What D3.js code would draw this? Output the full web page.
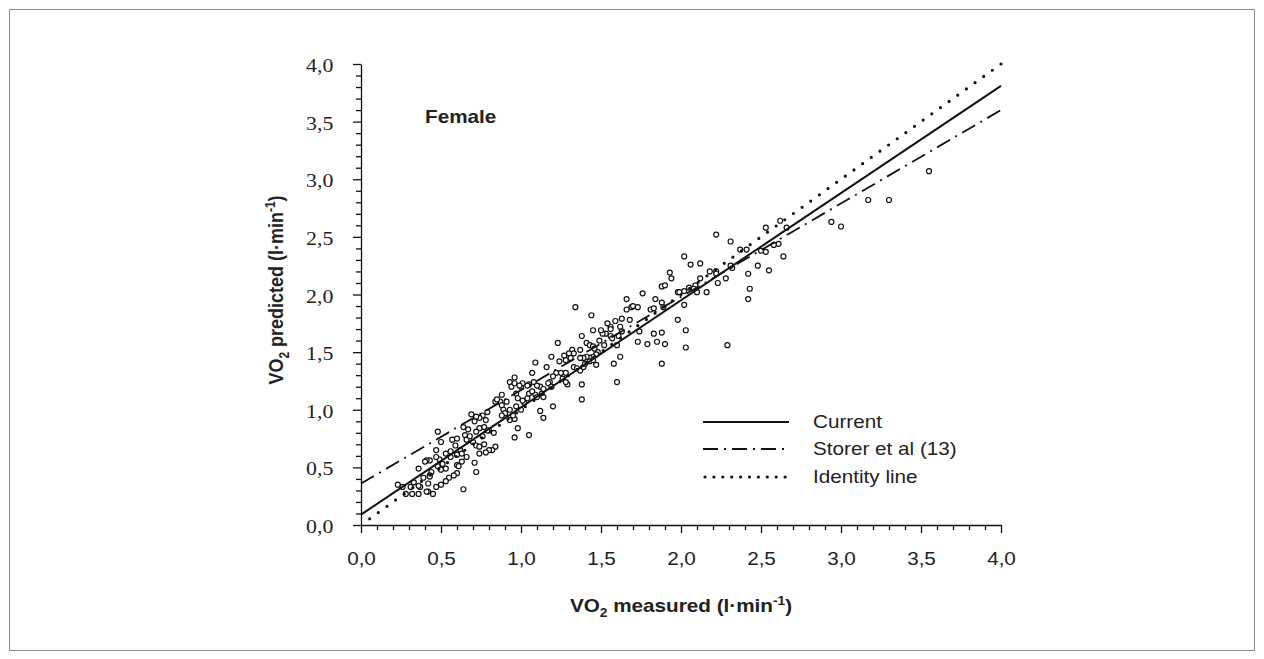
<!DOCTYPE html>
<html>
<head>
<meta charset="utf-8">
<script src="https://cdn.jsdelivr.net/npm/d3@7"></script>
<style>
  body { margin: 0; background: #fff; }
  svg { display: block; }
</style>
</head>
<body>
<script>
// values (l/min)
var femalePoints = [
  [2.22,2.52],[2.31,2.46],[2.12,2.27],[2.18,2.20],[2.22,2.20],[2.22,2.18],[2.16,2.02],[2.23,2.10],[2.28,2.14],
  [2.32,2.23],[2.31,2.25],[2.37,2.39],[2.41,2.39],[2.53,2.58],[2.62,2.64],[2.66,2.58],[2.42,2.18],[2.43,2.05],
  [2.42,1.96],[2.48,2.25],[2.55,2.21],[2.64,2.33],[2.61,2.44],[2.58,2.43],[2.53,2.37],[2.50,2.38],[2.29,1.56],
  [2.94,2.63],[3.00,2.59],[3.17,2.82],[3.30,2.82],[3.55,3.07],[2.06,2.26],[2.12,2.14],[2.09,2.08],
  [2.02,2.33],[1.93,2.19],[1.94,2.14],[1.88,2.07],[1.90,2.08],[1.84,1.96],[1.88,1.93],[1.76,2.01],[1.66,1.96],
  [1.69,1.89],[1.70,1.90],[1.73,1.89],[1.81,1.87],[1.83,1.88],[1.89,1.89],[1.98,2.02],[1.99,2.02],[2.02,2.03],
  [2.05,2.06],[2.08,2.05],[2.10,2.02],[2.02,1.91],[1.98,1.78],[2.03,1.69],[2.03,1.54],[1.88,1.67],[1.85,1.59],
  [1.90,1.57],[1.83,1.66],[1.79,1.57],[1.73,1.59],[1.88,1.40],[1.74,1.68],[1.68,1.78],[1.63,1.79],[1.59,1.77],
  [1.66,1.87],[1.56,1.72],[1.56,1.70],[1.53,1.66],[1.62,1.72],[1.63,1.68],[1.61,1.64],[1.60,1.56],[1.62,1.46],
  [1.58,1.40],[1.60,1.24],[1.44,1.82],[1.45,1.69],[1.34,1.89],[1.38,1.64],[1.49,1.60],[1.51,1.66],[1.56,1.64],
  [1.57,1.62],[1.41,1.58],[1.43,1.56],[1.45,1.55],[1.46,1.53],[1.48,1.50],[1.47,1.48],[1.45,1.46],[1.43,1.45],
  [1.41,1.46],[1.39,1.45],[1.37,1.45],[1.37,1.52],[1.32,1.52],[1.33,1.49],[1.31,1.45],[1.27,1.47],[1.28,1.43],
  [1.24,1.42],[1.23,1.58],[1.19,1.46],[1.16,1.37],[1.22,1.32],[1.20,1.29],[1.25,1.32],[1.28,1.32],[1.26,1.27],
  [1.29,1.22],[1.28,1.24],[1.33,1.37],[1.35,1.36],[1.37,1.34],[1.39,1.37],[1.40,1.40],[1.43,1.42],[1.45,1.43],
  [1.47,1.39],[1.38,1.22],[1.38,1.09],[1.20,1.03],[1.18,1.24],[1.17,1.23],[1.19,1.20],[1.12,1.20],[1.14,1.18],
  [1.13,1.14],[1.14,1.11],[1.54,1.75],[1.50,1.69],[1.52,1.56],[1.30,1.49],
  [1.09,1.41],[1.07,1.32],[1.08,1.24],[1.10,1.21],[1.05,1.22],[1.04,1.21],[1.09,1.13],[1.10,1.11],[1.12,0.99],
  [1.14,0.93],[1.05,0.78],[0.96,1.28],[0.93,1.24],[0.94,1.20],[0.96,1.23],[0.88,1.13],[0.87,1.07],[0.91,1.07],
  [0.88,1.04],[0.84,1.07],[0.85,1.09],[0.89,1.00],[0.90,0.97],[0.88,0.95],[0.93,0.91],[0.96,0.92],[0.95,0.95],
  [0.98,0.84],[0.96,0.76],[0.93,1.00],[0.97,1.03],[1.00,1.00],[1.02,1.06],[1.01,1.08],[1.04,1.10],[1.05,1.14],
  [1.07,1.16],[1.00,1.20],[1.01,1.23],[0.99,1.21],[0.97,1.14],[0.98,1.10],[0.79,0.98],[0.76,0.95],[0.78,0.91],
  [0.74,0.93],[0.72,0.94],[0.69,0.96],[0.71,0.90],[0.77,0.85],[0.80,0.82],[0.76,0.77],[0.83,0.80],[0.84,0.68],
  [0.82,0.65],[0.79,0.82],[0.74,0.84],[0.72,0.81],[0.67,0.83],[0.64,0.85],[0.65,0.78],[0.66,0.74],[0.68,0.77],
  [0.70,0.72],[0.72,0.69],[0.74,0.68],[0.77,0.70],[0.80,0.65],[0.78,0.63],[0.74,0.62],[0.71,0.54],[0.72,0.46],
  [0.57,0.74],[0.60,0.75],[0.59,0.69],[0.56,0.64],[0.62,0.65],[0.60,0.61],[0.63,0.62],[0.66,0.59],[0.63,0.55],
  [0.60,0.52],[0.61,0.51],[0.60,0.45],[0.58,0.43],[0.55,0.41],[0.53,0.38],[0.50,0.35],[0.47,0.33],[0.45,0.27],
  [0.42,0.29],[0.36,0.27],[0.32,0.27],[0.64,0.31],[0.48,0.51],[0.50,0.48],[0.53,0.49],[0.51,0.53],[0.49,0.57],
  [0.47,0.59],[0.53,0.62],[0.56,0.59],[0.43,0.56],[0.41,0.56],[0.44,0.46],[0.43,0.43],[0.39,0.41],[0.37,0.33],
  [0.33,0.37],[0.48,0.81],[0.50,0.72],[0.47,0.65],[0.36,0.49],[0.23,0.35],[0.26,0.33],[0.28,0.27],
  [0.31,0.33],[0.36,0.34],[0.40,0.55],[0.41,0.29],[0.42,0.36],[0.43,0.42]
];

var currentLine = [[0, 0.09], [4, 3.81]];
var storerLine = [[0, 0.36], [4, 3.60]];
var identityLine = [[0, 0], [4, 4]];

var legendLabels = ["Current", "Storer et al (13)", "Identity line"];
var tickValues = [0, 0.5, 1, 1.5, 2, 2.5, 3, 3.5, 4];
var tickLabels = ["0,0", "0,5", "1,0", "1,5", "2,0", "2,5", "3,0", "3,5", "4,0"];

var width = 1264, height = 659;
var stretch = "scale(1.15,1)";
var sans = "'Liberation Sans', Arial, sans-serif";
var serif = "'Liberation Serif', 'Times New Roman', serif";

var svg = d3.select("body").append("svg")
    .attr("width", width)
    .attr("height", height);

// outer frame
svg.append("rect")
    .attr("x", 9.5).attr("y", 9.5)
    .attr("width", 1245).attr("height", 641)
    .attr("fill", "none")
    .attr("stroke", "#8c8c8c")
    .attr("stroke-width", 1);

var x = d3.scaleLinear().domain([0, 4]).range([361, 1001]);
var y = d3.scaleLinear().domain([0, 4]).range([525, 64]);

var allTicks = d3.range(0, 41).map(function (i) { return i / 10; });
function isMajor(d) { return Math.abs(d * 2 - Math.round(d * 2)) < 1e-6; }
function label(d) {
    var i = tickValues.findIndex(function (t) { return Math.abs(t - d) < 1e-6; });
    return i < 0 ? "" : tickLabels[i];
}

// x axis
var gx = svg.append("g")
    .attr("transform", "translate(0,525)")
    .call(d3.axisBottom(x).tickValues(allTicks).tickSize(8).tickSizeOuter(0).tickFormat(label));
gx.selectAll(".tick line").attr("y2", function (d) { return isMajor(d) ? 8 : 5; });
gx.selectAll(".tick text")
    .attr("y", 27)
    .attr("transform", stretch)
    .style("font-family", sans)
    .style("font-size", "18px")
    .attr("fill", "#222");

// y axis
var gy = svg.append("g")
    .attr("transform", "translate(361,0)")
    .call(d3.axisLeft(y).tickValues(allTicks).tickSize(8).tickSizeOuter(0).tickFormat(label));
gy.selectAll(".tick line").attr("x2", function (d) { return isMajor(d) ? -8 : -5; });
gy.selectAll(".tick text")
    .attr("x", -24)
    .attr("dy", "0.4em")
    .attr("transform", stretch)
    .style("font-family", serif)
    .style("font-size", "19px")
    .attr("fill", "#222");

svg.selectAll(".domain, .tick line")
    .attr("stroke", "#111")
    .attr("stroke-width", 1.3);

// axis titles
var xt = svg.append("text")
    .attr("transform", "translate(681,612) " + stretch)
    .attr("text-anchor", "middle")
    .style("font-family", sans)
    .style("font-size", "18px")
    .style("font-weight", "bold")
    .attr("fill", "#222");
xt.append("tspan").text("VO");
xt.append("tspan").attr("dy", 5).style("font-size", "12px").text("2");
xt.append("tspan").attr("dy", -5).text(" measured (l");
xt.append("tspan").text("\u00b7");
xt.append("tspan").text("min");
xt.append("tspan").attr("dy", -7).style("font-size", "12px").text("-1");
xt.append("tspan").attr("dy", 7).text(")");

var yt = svg.append("text")
    .attr("transform", "translate(283,290) scale(1.15,1) rotate(-90)")
    .attr("text-anchor", "middle")
    .style("font-family", sans)
    .style("font-size", "18px")
    .style("font-weight", "bold")
    .attr("fill", "#222");
yt.append("tspan").text("VO");
yt.append("tspan").attr("dy", 5).style("font-size", "12px").text("2");
yt.append("tspan").attr("dy", -5).text(" predicted (l");
yt.append("tspan").text("\u00b7");
yt.append("tspan").text("min");
yt.append("tspan").attr("dy", -7).style("font-size", "12px").text("-1");
yt.append("tspan").attr("dy", 7).text(")");

svg.append("text")
    .attr("transform", "translate(425,123) " + stretch)
    .style("font-family", sans)
    .style("font-size", "18px")
    .style("font-weight", "bold")
    .attr("fill", "#222")
    .text("Female");

// points
svg.append("g")
    .selectAll("circle")
    .data(femalePoints)
    .enter().append("circle")
    .attr("cx", function (d) { return x(d[0]); })
    .attr("cy", function (d) { return y(d[1]); })
    .attr("r", 2.5)
    .attr("fill", "#fff")
    .attr("stroke", "#111")
    .attr("stroke-width", 1.2);

var line = d3.line()
    .x(function (d) { return x(d[0]); })
    .y(function (d) { return y(d[1]); });

svg.append("path")
    .datum(currentLine)
    .attr("d", line)
    .attr("fill", "none")
    .attr("stroke", "#111")
    .attr("stroke-width", 2);

svg.append("path")
    .datum(storerLine)
    .attr("d", line)
    .attr("fill", "none")
    .attr("stroke", "#111")
    .attr("stroke-width", 1.8)
    .attr("stroke-dasharray", "15,6,2,6");

var idPath = svg.append("path")
    .datum(identityLine)
    .attr("d", line)
    .attr("fill", "none")
    .attr("stroke", "#111")
    .attr("stroke-width", 3.2)
    .attr("stroke-linecap", "round");
var idLen = idPath.node().getTotalLength();
idPath.attr("stroke-dasharray", "0," + (idLen / 74))
    .attr("stroke-dashoffset", 0.01);

// legend
var legendY = [422, 449, 477];
var legendDash = [null, "15,6,2,6", "0,8.9"];
var legendWidth = [2, 1.8, 3.2];
var lg = svg.append("g");
legendLabels.forEach(function (name, i) {
    var l = lg.append("line")
        .attr("x1", i == 2 ? 705 : 703).attr("x2", 789)
        .attr("y1", legendY[i]).attr("y2", legendY[i])
        .attr("stroke", "#111")
        .attr("stroke-width", legendWidth[i]);
    if (legendDash[i]) l.attr("stroke-dasharray", legendDash[i]);
    if (i == 2) l.attr("stroke-linecap", "round");
    lg.append("text")
        .attr("transform", "translate(813," + (legendY[i] + 6) + ") " + stretch)
        .style("font-family", sans)
        .style("font-size", "18px")
        .attr("fill", "#222")
        .text(name);
});
</script>
</body>
</html>
